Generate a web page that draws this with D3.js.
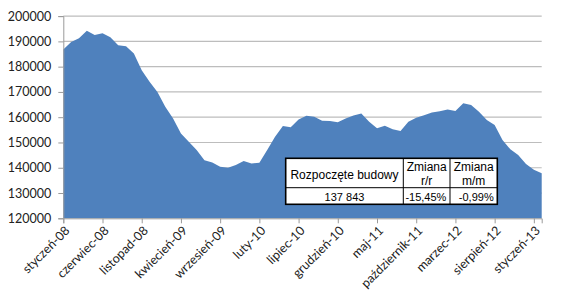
<!DOCTYPE html>
<html><head><meta charset="utf-8">
<script src="https://cdn.jsdelivr.net/npm/d3@7"></script>
<style>
html,body{margin:0;padding:0;background:#fff;}
svg{display:block;}
</style></head>
<body>
<svg id="chart" width="570" height="305"></svg>
<script>
(function(){
const monthNames = ["styczeń","luty","marzec","kwiecień","maj","czerwiec","lipiec","sierpień","wrzesień","październik","listopad","grudzień"];
const years = ["08","09","10","11","12","13"];
const starts = [
  186800,189800,191200,194200,192500,193200,191600,188500,188100,185200,178600,174000,
  170000,164100,159500,153600,150300,147000,143000,142100,140400,140000,141100,142700,
  141700,142000,147000,152300,156500,156000,159100,160600,160200,158600,158500,158000,
  159500,160700,161500,158200,155600,156600,155200,154500,158200,159800,160800,161900,
  162400,163000,162500,165500,164800,162200,158900,156900,151000,147300,145000,141500,
  139200,137843
];
const categories = [];
years.forEach(y => monthNames.forEach(m => categories.push(m + "-" + y)));
categories.length = starts.length;
const xTickLabels = ["styczeń-08","czerwiec-08","listopad-08","kwiecień-09","wrzesień-09","luty-10","lipiec-10","grudzień-10","maj-11","październik-11","marzec-12","sierpień-12","styczeń-13"];
const yTicks = [120000,130000,140000,150000,160000,170000,180000,190000,200000];
const tableHeader = ["Rozpoczęte budowy", "Zmiana\nr/r", "Zmiana\nm/m"];
const tableValues = ["137 843", "-15,45%", "-0,99%"];

const svg = d3.select("#chart");
const pLeft = 63.3, pRight = 541.7, pTop = 16.1, pBottom = 218.3;
const x = d3.scalePoint().domain(categories).range([pLeft, pRight]);
const y = d3.scaleLinear().domain([120000, 200000]).range([pBottom, pTop]);
const axisFont = "Lato, 'Open Sans', sans-serif";

svg.append("g").selectAll("line").data(yTicks.slice(1)).join("line")
  .attr("x1", pLeft).attr("x2", pRight)
  .attr("y1", d => y(d)).attr("y2", d => y(d))
  .attr("stroke", "#bdbdbd").attr("stroke-width", 1.2);

const area = d3.area()
  .x((d, i) => x(categories[i]))
  .y0(y(120000)).y1(d => y(d));
svg.append("path").datum(starts).attr("d", area).attr("fill", "#4f81bd");

const yAxis = svg.append("g").attr("transform", `translate(${pLeft},0)`)
  .call(d3.axisLeft(y).tickValues(yTicks).tickSize(5).tickPadding(7).tickFormat(d3.format("d")));
yAxis.select(".domain").attr("stroke", "#9a9a9a");
yAxis.selectAll(".tick line").attr("stroke", "#9a9a9a");
yAxis.selectAll("text").attr("font-family", axisFont).attr("font-size", 12.5).attr("fill", "#222");

const tickCats = categories.filter((c, i) => i % 5 === 0);
const xAxis = svg.append("g").attr("transform", `translate(0,${pBottom})`)
  .call(d3.axisBottom(x).tickValues(tickCats).tickSize(5).tickFormat(""));
xAxis.select(".domain").attr("stroke", "#9a9a9a");
xAxis.selectAll(".tick line").attr("stroke", "#9a9a9a");
xAxis.selectAll(".tick text").remove();

const lg = svg.append("g").selectAll("g").data(tickCats).join("g")
  .attr("transform", d => `translate(${x(d) + 4},${pBottom + 10})`);
lg.append("text")
  .attr("transform", "rotate(-45)")
  .attr("text-anchor", "end")
  .attr("dy", "0.35em")
  .attr("font-family", axisFont).attr("font-size", 12.5).attr("fill", "#222")
  .text((d, i) => xTickLabels[i]);

const tx = [285.7, 403.3, 450, 497.3];
const ty = [158.3, 187.7, 204.3];
const tg = svg.append("g");
tg.append("rect").attr("x", tx[0]).attr("y", ty[0]).attr("width", tx[3]-tx[0]).attr("height", ty[2]-ty[0])
  .attr("fill", "#fff").attr("stroke", "#000").attr("stroke-width", 1.6);
tg.append("line").attr("x1", tx[0]).attr("x2", tx[3]).attr("y1", ty[1]).attr("y2", ty[1]).attr("stroke", "#000").attr("stroke-width", 1);
[tx[1], tx[2]].forEach(v => tg.append("line").attr("x1", v).attr("x2", v).attr("y1", ty[0]).attr("y2", ty[2]).attr("stroke", "#000").attr("stroke-width", 1));
const tFont = "'Liberation Sans', Arial, sans-serif";
tableHeader.forEach((h, i) => {
  const cx = (tx[i] + tx[i+1]) / 2;
  const lines = h.split("\n");
  const t = tg.append("text").attr("font-family", tFont).attr("font-size", 12).attr("fill", "#000").attr("text-anchor", "middle");
  if (lines.length === 1) {
    t.append("tspan").attr("x", cx).attr("y", 179.3).text(lines[0]);
  } else {
    t.append("tspan").attr("x", cx).attr("y", 170.8).text(lines[0]);
    t.append("tspan").attr("x", cx).attr("y", 185).text(lines[1]);
  }
});
tableValues.forEach((v, i) => {
  const t = tg.append("text").attr("font-family", tFont).attr("font-size", 11).attr("fill", "#000").attr("y", 200.7);
  if (i === 0) t.attr("x", (tx[0]+tx[1])/2).attr("text-anchor", "middle");
  else t.attr("x", tx[i+1] - 3.6).attr("text-anchor", "end");
  t.text(v);
});
})();
</script>
</body></html>
